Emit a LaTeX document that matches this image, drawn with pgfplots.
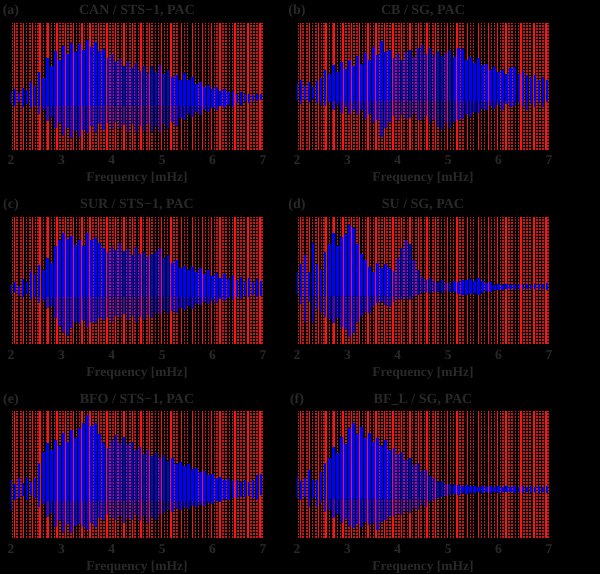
\documentclass[border=0pt]{standalone}
\usepackage{fontspec}
\setmainfont{Liberation Serif}
\usepackage{pgfplots}
\usepackage{pgfplotstable}
\pgfplotsset{compat=1.18}
\definecolor{txt}{gray}{0.16}
\definecolor{modeS}{RGB}{250,20,20}
\definecolor{modeT}{RGB}{200,25,25}

\pgfplotstableread{
f h
2.07 127
2.25 127
2.43 127
2.58 127
2.74 127
2.91 127
3.08 127
3.24 127
3.41 127
3.57 127
3.74 127
3.90 127
4.07 127
4.24 127
4.41 127
4.58 127
4.75 127
4.99 127
5.17 127
5.38 127
5.60 127
5.80 127
5.98 127
6.15 127
6.44 127
6.70 127
6.94 127
}\modesS

\pgfplotstableread{
f h
2.03 127
2.12 127
2.20 127
2.31 127
2.38 127
2.49 127
2.54 127
2.64 127
2.70 127
2.80 127
2.86 127
2.97 127
3.03 127
3.13 127
3.19 127
3.30 127
3.36 127
3.46 127
3.52 127
3.63 127
3.69 127
3.79 127
3.85 127
3.96 127
4.02 127
4.12 127
4.19 127
4.29 127
4.36 127
4.46 127
4.53 127
4.63 127
4.70 127
4.80 127
4.87 127
4.93 127
5.05 127
5.11 127
5.23 127
5.29 127
5.44 127
5.50 127
5.66 127
5.72 127
5.86 127
5.92 127
6.04 127
6.09 127
6.21 127
6.27 127
6.34 127
6.39 127
6.50 127
6.56 127
6.62 127
6.76 127
6.82 127
6.88 127
6.98 127
}\modesT

% panel (a) CAN / STS-1
\pgfplotstableread{
f U L
2.00 58 47
2.08 61 44
2.16 57 48
2.24 62 43
2.32 60 46
2.40 68 42
2.48 64 44
2.56 78 36
2.64 72 40
2.72 92 29
2.80 84 33
2.88 99 22
2.96 90 27
3.04 104 15
3.12 96 22
3.20 107 12
3.28 98 19
3.36 106 13
3.44 100 20
3.52 110 17
3.60 103 24
3.68 108 18
3.76 99 26
3.84 101 20
3.92 92 27
4.00 96 21
4.08 88 28
4.16 91 22
4.24 84 25
4.32 89 18
4.40 82 26
4.48 87 17
4.56 79 24
4.64 84 19
4.72 77 26
4.80 83 18
4.88 78 24
4.96 85 17
5.04 76 26
5.12 80 21
5.20 73 28
5.28 75 24
5.36 70 32
5.44 77 30
5.52 70 36
5.60 73 33
5.68 66 38
5.76 68 35
5.84 63 40
5.92 65 38
6.00 61 42
6.08 63 40
6.16 59 44
6.24 61 42
6.32 58 45
6.40 59 43
6.48 56 47
6.56 58 45
6.64 56 48
6.72 56 47
6.80 55 49
6.88 56 49
6.96 56 50
}\dataA

% panel (b) CB / SG
\pgfplotstableread{
f U L
2.00 66 50
2.08 70 46
2.16 64 50
2.24 68 47
2.32 63 51
2.40 69 47
2.48 72 45
2.56 80 44
2.64 76 47
2.72 85 40
2.80 78 45
2.88 88 37
2.96 81 43
3.04 90 36
3.12 84 40
3.20 94 35
3.28 86 40
3.36 97 31
3.44 90 36
3.52 103 27
3.60 95 30
3.68 109 13
3.76 98 22
3.84 100 28
3.92 92 34
4.00 97 30
4.08 90 35
4.16 98 31
4.24 100 32
4.32 93 36
4.40 102 30
4.48 105 30
4.56 96 34
4.64 102 27
4.72 95 30
4.80 99 23
4.88 94 20
4.96 97 27
5.04 100 22
5.12 93 28
5.20 102 30
5.28 101 31
5.36 90 36
5.44 93 33
5.52 87 38
5.60 92 37
5.68 85 41
5.76 86 40
5.84 80 44
5.92 83 41
6.00 78 45
6.08 80 40
6.16 76 46
6.24 82 43
6.32 83 44
6.40 76 47
6.48 79 43
6.56 75 40
6.64 73 46
6.72 75 43
6.80 70 47
6.88 73 43
6.96 70 48
}\dataB

% panel (c) SUR / STS-1
\pgfplotstableread{
f U L
2.00 60 50
2.08 62 52
2.16 58 49
2.24 65 47
2.32 62 50
2.40 73 45
2.48 70 47
2.56 79 41
2.64 74 43
2.72 86 36
2.80 81 38
2.88 98 26
2.96 104 18
3.04 111 12
3.12 105 9
3.20 108 16
3.28 99 22
3.36 104 20
3.44 98 24
3.52 111 17
3.60 104 22
3.68 106 21
3.76 101 26
3.84 96 24
3.92 92 27
4.00 97 22
4.08 94 28
4.16 101 26
4.24 93 30
4.32 95 24
4.40 89 28
4.48 97 22
4.56 90 27
4.64 92 24
4.72 87 29
4.80 90 26
4.88 93 31
4.96 96 29
5.04 86 33
5.12 89 30
5.20 81 33
5.28 84 31
5.36 76 36
5.44 78 34
5.52 74 38
5.60 77 35
5.68 72 40
5.76 76 39
5.84 70 42
5.92 74 40
6.00 68 43
6.08 71 41
6.16 66 45
6.24 70 43
6.32 65 46
6.40 69 44
6.48 64 47
6.56 67 45
6.64 63 48
6.72 66 47
6.80 62 49
6.88 65 47
6.96 63 48
}\dataC

% panel (d) SU / SG
\pgfplotstableread{
f U L
2.00 72 50
2.08 80 40
2.16 89 22
2.24 72 42
2.32 101 21
2.40 80 35
2.48 74 31
2.56 92 27
2.64 100 25
2.72 111 21
2.80 98 26
2.88 107 17
2.96 110 14
3.04 119 7
3.12 116 11
3.20 100 22
3.28 90 28
3.36 84 32
3.44 77 31
3.52 72 38
3.60 81 41
3.68 76 42
3.76 80 39
3.84 76 37
3.92 73 42
4.00 86 44
4.08 96 44
4.16 104 45
4.24 100 44
4.32 84 47
4.40 74 49
4.48 67 51
4.56 64 52
4.64 66 51
4.72 63 52
4.80 62 52
4.88 64 51
4.96 61 53
5.04 61 52
5.12 63 52
5.20 62 50
5.28 64 49
5.36 64 49
5.44 65 50
5.52 63 51
5.60 66 49
5.68 63 51
5.76 61 53
5.84 62 52
5.92 59 54
6.00 60 54
6.08 59 54
6.16 60 55
6.24 59 55
6.32 59 55
6.40 60 55
6.48 59 55
6.56 60 55
6.64 59 55
6.72 60 55
6.80 60 55
6.88 60 55
6.96 61 54
}\dataD

% panel (e) BFO / STS-1
\pgfplotstableread{
f U L
2.00 58 28
2.08 54 38
2.16 60 40
2.24 55 42
2.32 61 38
2.40 56 43
2.48 60 40
2.56 75 31
2.64 86 34
2.72 95 21
2.80 88 25
2.88 98 11
2.96 92 18
3.04 105 6
3.12 96 14
3.20 108 5
3.28 100 12
3.36 110 14
3.44 115 11
3.52 123 8
3.60 112 15
3.68 115 11
3.76 104 20
3.84 95 18
3.92 90 24
4.00 98 20
4.08 103 18
4.16 95 22
4.24 101 15
4.32 94 20
4.40 96 18
4.48 88 23
4.56 91 17
4.64 84 22
4.72 88 15
4.80 82 21
4.88 85 18
4.96 80 24
5.04 83 25
5.12 77 28
5.20 80 26
5.28 74 30
5.36 76 28
5.44 72 31
5.52 74 29
5.60 69 32
5.68 70 31
5.76 66 33
5.84 67 32
5.92 63 35
6.00 64 34
6.08 60 37
6.16 61 36
6.24 58 39
6.32 59 38
6.40 57 40
6.48 58 40
6.56 56 41
6.64 58 41
6.72 56 42
6.80 58 40
6.88 63 38
6.96 64 43
}\dataE

% panel (f) BF_L / SG
\pgfplotstableread{
f U L
2.00 61 40
2.08 57 38
2.16 60 41
2.24 68 31
2.32 58 40
2.40 58 31
2.48 66 35
2.56 75 26
2.64 80 28
2.72 91 20
2.80 85 24
2.88 101 15
2.96 94 19
3.04 110 12
3.12 115 10
3.20 104 14
3.28 111 11
3.36 100 16
3.44 105 13
3.52 96 15
3.60 100 8
3.68 92 16
3.76 98 18
3.84 88 22
3.92 90 21
4.00 84 24
4.08 86 23
4.16 78 27
4.24 80 25
4.32 73 30
4.40 75 28
4.48 67 33
4.56 68 31
4.64 62 36
4.72 60 37
4.80 56 40
4.88 57 41
4.96 54 42
5.04 54 43
5.12 53 44
5.20 53 43
5.28 52 45
5.36 53 44
5.44 52 45
5.52 52 45
5.60 51 46
5.68 52 45
5.76 51 46
5.84 52 45
5.92 51 46
6.00 52 45
6.08 51 46
6.16 52 46
6.24 51 46
6.32 52 45
6.40 51 46
6.48 52 45
6.56 51 46
6.64 52 45
6.72 51 46
6.80 52 45
6.88 51 46
6.96 52 45
}\dataF

\newcommand\lblfont{\bfseries\fontsize{13.5}{16}\selectfont}
\newcommand\ttlfont{\bfseries\fontsize{14}{16}\selectfont}

\pgfplotsset{
  panel/.style={
    scale only axis, width=252pt, height=127pt, anchor=south west,
    xmin=2, xmax=7, ymin=0, ymax=127,
    axis line style={draw=none}, major tick style={draw=none},
    ytick=\empty, xtick={2,3,4,5,6,7}, xticklabels={2,3,4,5,6,7},
    xticklabel style={anchor=base, yshift=-15pt, text=txt, font=\lblfont},
    xlabel={Frequency [mHz]},
    xlabel style={at={(axis description cs:0.5,0)}, anchor=base, yshift=-32pt, text=txt, font=\lblfont},
    every axis title shift=0pt,
    title style={at={(axis description cs:0.5,1)}, anchor=base, yshift=8pt, text=txt, font=\ttlfont},
  },
}

\newcommand\panel[5]{%
  \begin{axis}[panel, at={#1}, name=#5, title={#2}]
    \addplot[ycomb, no markers, modeT, line width=1.5pt, dash pattern=on 2pt off 1pt] table[x=f, y=h] {\modesT};
    \addplot[ycomb, no markers, modeS, line width=1.6pt] table[x=f, y=h] {\modesS};
    \addplot[draw=none, mark=none, error bars/.cd, y dir=plus, y explicit, error mark=none,
      error bar style={draw=blue, opacity=0.7, line width=2.5pt}]
      table[x=f, y=L, y error expr=\thisrow{U}-\thisrow{L}] {#3};
    \addplot[draw=none, mark=none, error bars/.cd, y dir=plus, y explicit, error mark=none,
      error bar style={draw=blue, line width=2.5pt}]
      table[x=f, y expr={max(\thisrow{L},#4)}, y error expr={\thisrow{U}-max(\thisrow{L},#4)}] {#3};
  \end{axis}
  \node[anchor=base, text=txt, font=\ttlfont] at ([yshift=8pt]#5.north west) {(#5)};
}

\begin{document}
\begin{tikzpicture}
  \useasboundingbox (0,0) rectangle (600pt,574pt);
  \fill[black] (0,0) rectangle (600pt,574pt);
  \panel{(11pt,424pt)}{CAN / STS−1, PAC}{\dataA}{44}{a}
  \panel{(297pt,424pt)}{CB / SG, PAC}{\dataB}{49}{b}
  \panel{(11pt,230pt)}{SUR / STS−1, PAC}{\dataC}{47}{c}
  \panel{(297pt,230pt)}{SU / SG, PAC}{\dataD}{48}{d}
  \panel{(11pt,36pt)}{BFO / STS−1, PAC}{\dataE}{37}{e}
  \panel{(297pt,36pt)}{BF\_L / SG, PAC}{\dataF}{39}{f}
\end{tikzpicture}
\end{document}
